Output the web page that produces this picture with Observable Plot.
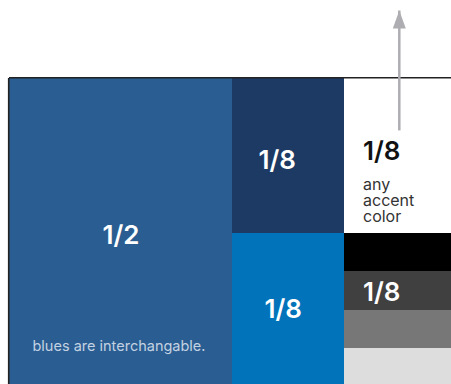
<!DOCTYPE html>
<html>
<head>
<meta charset="utf-8">
<script src="https://cdn.jsdelivr.net/npm/d3@7"></script>
<script src="https://cdn.jsdelivr.net/npm/@observablehq/plot@0.6"></script>
<style>
  html, body { margin: 0; padding: 0; overflow: hidden; background: #fff; }
  #chart svg { display: block; overflow: hidden; }
</style>
</head>
<body>
<div id="chart"></div>
<script>
// ---- data ----
const cells = ["blue", "navy", "bright blue", "accent", "black", "dark grey", "mid grey", "light grey"];
const columns = [1, 2, 2, 3, 3, 3, 3, 3];
const shares = [1/2, 1/8, 1/8, 1/8, 1/32, 1/32, 1/32, 1/32];
const shareLabels = ["1/2", "1/8", "1/8", "1/8", "", "1/8", "", ""];
const notes = ["blues are interchangable.", "", "", "any\naccent\ncolor", "", "", "", ""];
const fills = ["#2a5d91", "#1c3a63", "#0073ba", "#ffffff", "#000000", "#404040", "#777777", "#dddddd"];
// annotation arrow (data units of the unit square)
const arrowX = [0.874];
const arrowFrom = [0.168];
const arrowTo = [-0.22];

// ---- layout ----
const rows = cells.map((cell, i) => ({cell, column: columns[i], share: shares[i], label: shareLabels[i], note: notes[i]}));
const colKeys = Array.from(new Set(columns));
const root = d3.hierarchy({children: colKeys.map(c => ({children: rows.filter(r => r.column === c)}))})
  .sum(d => d.share || 0);
d3.treemap().tile(d3.treemapSliceDice).size([1, 1]).round(false)(root);
const leaves = root.leaves();
const leaf = name => leaves.filter(d => d.data.cell === name);
const cx = d => (d.x0 + d.x1) / 2;
const cy = d => (d.y0 + d.y1) / 2;

const fracFont = {fontFamily: "Inter", fontSize: 26, fontWeight: 600};

const arrowHead = {
  draw(ctx) {
    ctx.moveTo(0, 0);
    ctx.lineTo(6.5, 18);
    ctx.lineTo(-6.5, 18);
    ctx.closePath();
  }
};
const arrows = arrowX.map((x, i) => ({x, from: arrowFrom[i], to: arrowTo[i]}));

const chart = Plot.plot({
  width: 451,
  height: 384,
  marginLeft: 9,
  marginRight: 0,
  marginTop: 78,
  marginBottom: 0,
  style: {background: "white", fontFamily: "Inter"},
  x: {domain: [0, 1], range: [9, 455], axis: null},
  y: {domain: [0, 1], range: [78, 387], axis: null},
  color: {domain: cells, range: fills},
  marks: [
    Plot.rect(leaves, {x1: "x0", x2: "x1", y1: "y0", y2: "y1", fill: d => d.data.cell, shapeRendering: "crispEdges"}),
    Plot.ruleY([0], {stroke: "#222", strokeWidth: 1.6, dy: -0.8}),
    Plot.ruleX([0], {stroke: "#222", strokeWidth: 1.6, dx: -0.8}),
    // centred share labels
    Plot.text(leaf("blue"), {x: cx, y: cy, text: d => d.data.label, fill: "white", ...fracFont, dy: 2.5}),
    Plot.text(leaf("navy"), {x: cx, y: cy, text: d => d.data.label, fill: "white", ...fracFont, dx: -11, dy: 4.7}),
    Plot.text(leaf("bright blue"), {x: cx, y: cy, text: d => d.data.label, fill: "white", ...fracFont, dx: -5, dy: -0.8}),
    // left aligned labels
    Plot.text(leaf("accent"), {x: "x0", y: cy, text: d => d.data.label, fill: "#111", textAnchor: "start", ...fracFont, dx: 19, dy: -3.6}),
    Plot.text(leaf("dark grey"), {x: "x0", y: cy, text: d => d.data.label, fill: "white", textAnchor: "start", ...fracFont, dx: 19, dy: 1.5}),
    Plot.text(leaf("accent"), {x: "x0", y: cy, text: d => d.data.note, fill: "#333", textAnchor: "start", fontFamily: "Inter", fontSize: 16, lineHeight: 1, dx: 19, dy: 45.6}),
    Plot.text(leaf("blue"), {x: cx, y: "y1", text: d => d.data.note, fill: "#c3d2e2", fontFamily: "Inter", fontSize: 14.5, dx: -2, dy: -41}),
    // arrow
    Plot.link(arrows, {x1: "x", x2: "x", y1: "from", y2: "to", stroke: "#aeaeb2", strokeWidth: 2.5}),
    Plot.dot(arrows, {x: "x", y: "to", symbol: arrowHead, fill: "#aeaeb2", stroke: "none"})
  ]
});
document.getElementById("chart").append(chart);
</script>
</body>
</html>
